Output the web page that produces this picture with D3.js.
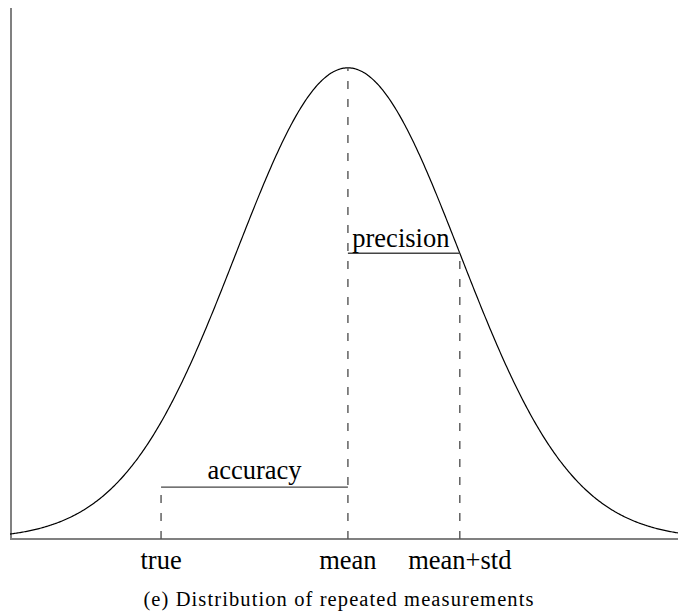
<!DOCTYPE html>
<html>
<head>
<meta charset="utf-8">
<script src="https://cdn.jsdelivr.net/npm/d3@7"></script>
<style>
  html, body { margin: 0; padding: 0; background: #fff; }
  svg { display: block; }
</style>
</head>
<body>
<svg id="chart" width="678" height="614"></svg>
<script>
// Standardised positions (in units of the standard deviation)
const markerNames = ["true", "mean", "mean+std"];
const markerValues = [-1.67, 0, 1];
const trueValue = -1.67;
const meanValue = 0;
const stdValue = 1;
const accuracyLevel = 0.11;      // height of the accuracy bar (relative to peak)
const xExtent = [-3.02, 2.95];
const yExtent = [0, 1.127];

const svg = d3.select("#chart");
const x = d3.scaleLinear().domain(xExtent).range([10, 678]);
const y = d3.scaleLinear().domain(yExtent).range([539, 8]);

const gauss = v => Math.exp(-0.5 * ((v - meanValue) / stdValue) ** 2);
const curve = d3.range(xExtent[0], xExtent[1] + 1e-9, 0.01).map(v => [v, gauss(v)]);

const serif = "'Liberation Serif', 'Times New Roman', serif";
const labelSize = 26.5;

// axes
svg.append("line").attr("x1", x(xExtent[0]) + 1).attr("x2", x(xExtent[0]) + 1)
  .attr("y1", y(yExtent[1])).attr("y2", y(0) + 1)
  .attr("stroke", "#808080").attr("stroke-width", 2);
svg.append("line").attr("x1", x(xExtent[0])).attr("x2", x(xExtent[1]))
  .attr("y1", y(0)).attr("y2", y(0))
  .attr("stroke", "#808080").attr("stroke-width", 2);

// distribution curve
svg.append("path").datum(curve)
  .attr("d", d3.line().x(d => x(d[0])).y(d => y(d[1])))
  .attr("fill", "none").attr("stroke", "#000").attr("stroke-width", 1.2);

// dashed verticals
const dashTops = [accuracyLevel, gauss(meanValue), gauss(meanValue + stdValue)];
markerValues.forEach((v, i) => {
  svg.append("line").attr("x1", x(v)).attr("x2", x(v))
    .attr("y1", y(0)).attr("y2", y(dashTops[i]))
    .attr("stroke", "#555").attr("stroke-width", 1.4)
    .attr("stroke-dasharray", "8,10");
});

// accuracy & precision bars
const precisionLevel = gauss(meanValue + stdValue);
svg.append("line").attr("x1", x(trueValue)).attr("x2", x(meanValue))
  .attr("y1", y(accuracyLevel)).attr("y2", y(accuracyLevel))
  .attr("stroke", "#444").attr("stroke-width", 1.4);
svg.append("line").attr("x1", x(meanValue)).attr("x2", x(meanValue + stdValue))
  .attr("y1", y(precisionLevel)).attr("y2", y(precisionLevel))
  .attr("stroke", "#444").attr("stroke-width", 1.4);

svg.append("text").attr("x", (x(trueValue) + x(meanValue)) / 2).attr("y", y(accuracyLevel) - 8)
  .attr("text-anchor", "middle").attr("font-family", serif).attr("font-size", labelSize)
  .text("accuracy");
svg.append("text").attr("x", (x(meanValue) + x(meanValue + stdValue)) / 2 - 3).attr("y", y(precisionLevel) - 6)
  .attr("text-anchor", "middle").attr("font-family", serif).attr("font-size", labelSize)
  .text("precision");

// tick labels
markerValues.forEach((v, i) => {
  svg.append("text").attr("x", x(v)).attr("y", 569)
    .attr("text-anchor", "middle").attr("font-family", serif).attr("font-size", labelSize)
    .text(markerNames[i]);
});

// caption
svg.append("text").attr("x", 339).attr("y", 606)
  .attr("text-anchor", "middle").attr("font-family", serif).attr("font-size", 20.5)
  .attr("letter-spacing", 1.1)
  .text("(e) Distribution of repeated measurements");
</script>
</body>
</html>
